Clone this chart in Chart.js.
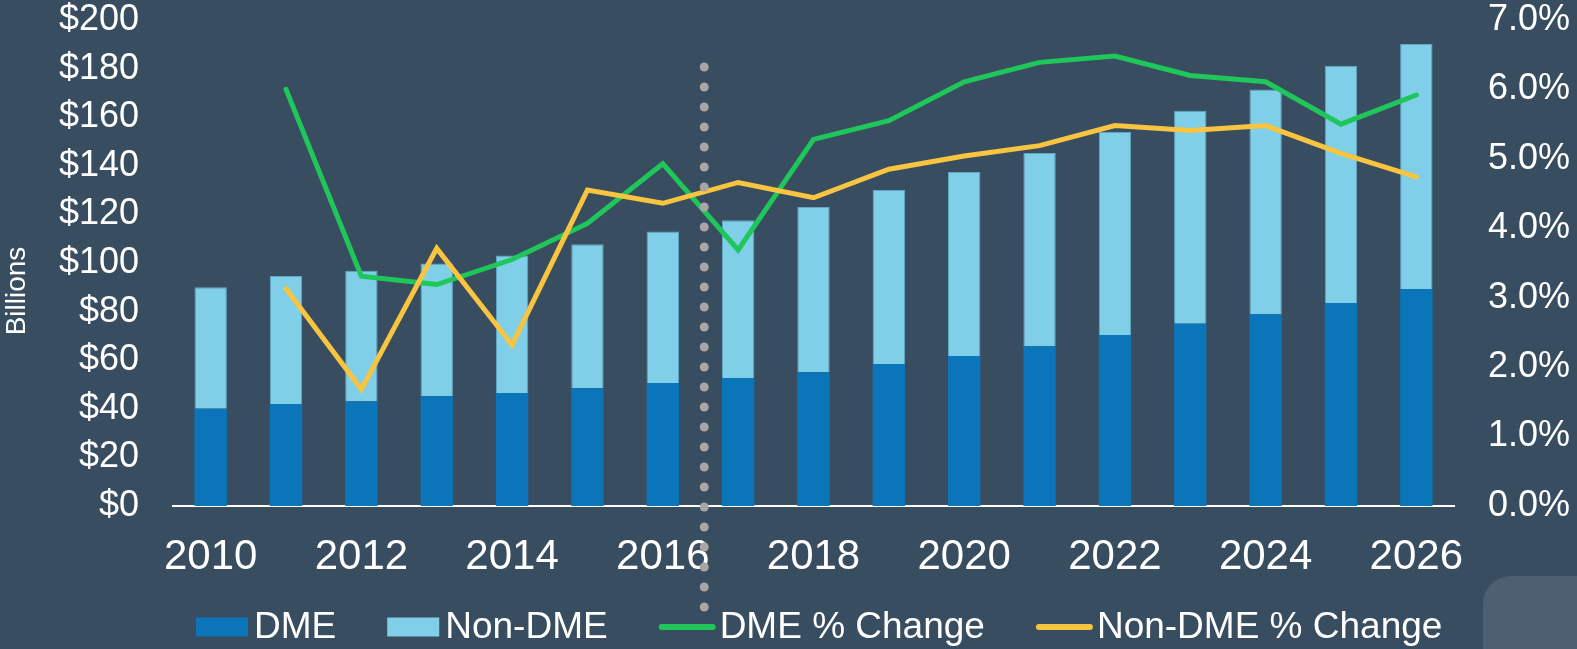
<!DOCTYPE html>
<html>
<head>
<meta charset="utf-8">
<script src="https://cdn.jsdelivr.net/npm/chart.js@4/dist/chart.umd.min.js"></script>
<style>
  html, body { margin: 0; padding: 0; background: #394d60; overflow: hidden; }
  #wrap { position: relative; width: 1577px; height: 649px; }
  canvas { display: block; }
  #corner { position: absolute; left: 1483px; top: 576px; width: 130px; height: 110px;
            background: #4d5f71; border-radius: 28px; }
</style>
</head>
<body>
<div id="wrap">
  <canvas id="chart" width="1577" height="649"></canvas>
  <div id="corner"></div>
</div>
<script>
// data
const years = ['2010','2011','2012','2013','2014','2015','2016','2017','2018',
               '2019','2020','2021','2022','2023','2024','2025','2026'];
const dme    = [40, 42, 43, 45.2, 46.5, 48.5, 50.6, 52.7, 55, 58.4, 61.7, 65.8, 70.4, 75, 79, 83.5, 89.3];
const nonDme = [50, 52.7, 53.8, 54.6, 56.6, 59.2, 62.4, 64.9, 68, 71.6, 75.7, 79.5, 83.6, 87.7, 92.4, 97.7, 100.8];
const dmePct    = [null, 6.0, 3.31, 3.19, 3.55, 4.07, 4.93, 3.69, 5.28, 5.55, 6.11, 6.39, 6.48, 6.20, 6.11, 5.50, 5.92];
const nonDmePct = [null, 3.13, 1.68, 3.71, 2.32, 4.55, 4.36, 4.66, 4.44, 4.85, 5.04, 5.19, 5.48, 5.41, 5.48, 5.08, 4.74];
const dividerAt = 6.55; // between 2016 actuals and 2017 forecast

const FONT = "'Liberation Sans', Arial, sans-serif";
const C_DME = '#0b75b9', C_NON = '#7ecfe7', C_GREEN = '#1fc65a', C_YELLOW = '#f9c440';

// Billions title, dotted divider and the legend
const extras = {
    id: 'extras',
    afterDatasetsDraw(chart) {
        const ctx = chart.ctx, x = chart.scales.x;
        const px = x.getPixelForValue(dividerAt);
        ctx.save();
        ctx.fillStyle = '#aaa6a5';
        for (let y = 67; y <= 610; y += 20) {
            ctx.beginPath(); ctx.arc(px, y, 4.5, 0, Math.PI * 2); ctx.fill();
        }
        ctx.restore();
    },
    afterDraw(chart) {
        const ctx = chart.ctx;
        ctx.save();
        ctx.fillStyle = '#fff';
        ctx.font = '28px ' + FONT;
        ctx.translate(17, 291);
        ctx.rotate(-Math.PI / 2);
        ctx.textAlign = 'center';
        ctx.textBaseline = 'middle';
        ctx.fillText('Billions', 0, 0);
        ctx.restore();

        // legend
        const items = [
            { text: 'DME', color: C_DME, type: 'box' },
            { text: 'Non-DME', color: C_NON, type: 'box' },
            { text: 'DME % Change', color: C_GREEN, type: 'line' },
            { text: 'Non-DME % Change', color: C_YELLOW, type: 'line' }
        ];
        ctx.save();
        ctx.font = '37px ' + FONT;
        ctx.textBaseline = 'middle';
        let lx = 196;
        const ly = 627;
        items.forEach(it => {
            if (it.type === 'box') {
                ctx.fillStyle = it.color;
                ctx.fillRect(lx, ly - 9.5, 52, 19);
                lx += 52 + 6;
            } else {
                ctx.strokeStyle = it.color;
                ctx.lineWidth = 6;
                ctx.lineCap = 'round';
                ctx.beginPath(); ctx.moveTo(lx + 3, ly); ctx.lineTo(lx + 54, ly); ctx.stroke();
                lx += 57 + 4;
            }
            ctx.fillStyle = '#fff';
            ctx.fillText(it.text, lx, ly + 1);
            lx += ctx.measureText(it.text).width + 51;
        });
        ctx.restore();
    }
};

function fixY(width) {
    return s => { s.width = width; s.paddingTop = 0; s.paddingBottom = 0; };
}

new Chart(document.getElementById('chart'), {
    data: {
        labels: years,
        datasets: [
            { type: 'line', label: 'DME % Change', data: dmePct, yAxisID: 'y2',
              borderColor: C_GREEN, borderWidth: 5, pointRadius: 0, tension: 0,
              borderCapStyle: 'round', order: 1 },
            { type: 'line', label: 'Non-DME % Change', data: nonDmePct, yAxisID: 'y2',
              borderColor: C_YELLOW, borderWidth: 5, pointRadius: 0, tension: 0,
              borderCapStyle: 'round', order: 0 },
            { type: 'bar', label: 'DME', data: dme, yAxisID: 'y', backgroundColor: C_DME,
              stack: 's', order: 2, borderWidth: 0 },
            { type: 'bar', label: 'Non-DME', data: nonDme, yAxisID: 'y', backgroundColor: C_NON,
              borderColor: '#62a8c6', borderWidth: { top: 1, left: 1, right: 1, bottom: 0 },
              stack: 's', order: 3 }
        ]
    },
    options: {
        responsive: false,
        animation: false,
        layout: { padding: { top: 20, left: 0, right: 0, bottom: 0 } },
        datasets: { bar: { categoryPercentage: 1, barPercentage: 0.43 } },
        plugins: { legend: { display: false }, tooltip: { enabled: false } },
        scales: {
            x: {
                stacked: true,
                afterFit: s => { s.height = 143; s.paddingLeft = 0; s.paddingRight = 0; },
                grid: { display: false, drawTicks: false },
                border: { display: true, color: '#ffffff', width: 2 },
                ticks: {
                    autoSkip: false, maxRotation: 0, padding: 26, color: '#fff',
                    font: { family: FONT, size: 42, lineHeight: 1.2 },
                    callback: function (v, i) { return i % 2 === 0 ? this.getLabelForValue(v) : ''; }
                }
            },
            y: {
                position: 'left', stacked: true, min: 0, max: 200,
                afterFit: fixY(173),
                grid: { display: false, drawTicks: false },
                border: { display: false },
                ticks: {
                    stepSize: 20, padding: 34, color: '#fff',
                    font: { family: FONT, size: 36, lineHeight: 1.1 },
                    callback: v => '$' + v
                }
            },
            y2: {
                position: 'right', min: 0, max: 7,
                afterFit: fixY(123),
                grid: { display: false, drawTicks: false },
                border: { display: false },
                ticks: {
                    stepSize: 1, padding: 34, color: '#fff',
                    font: { family: FONT, size: 36, lineHeight: 1.1 },
                    callback: v => v.toFixed(1) + '%'
                }
            }
        }
    },
    plugins: [extras]
});
</script>
</body>
</html>
